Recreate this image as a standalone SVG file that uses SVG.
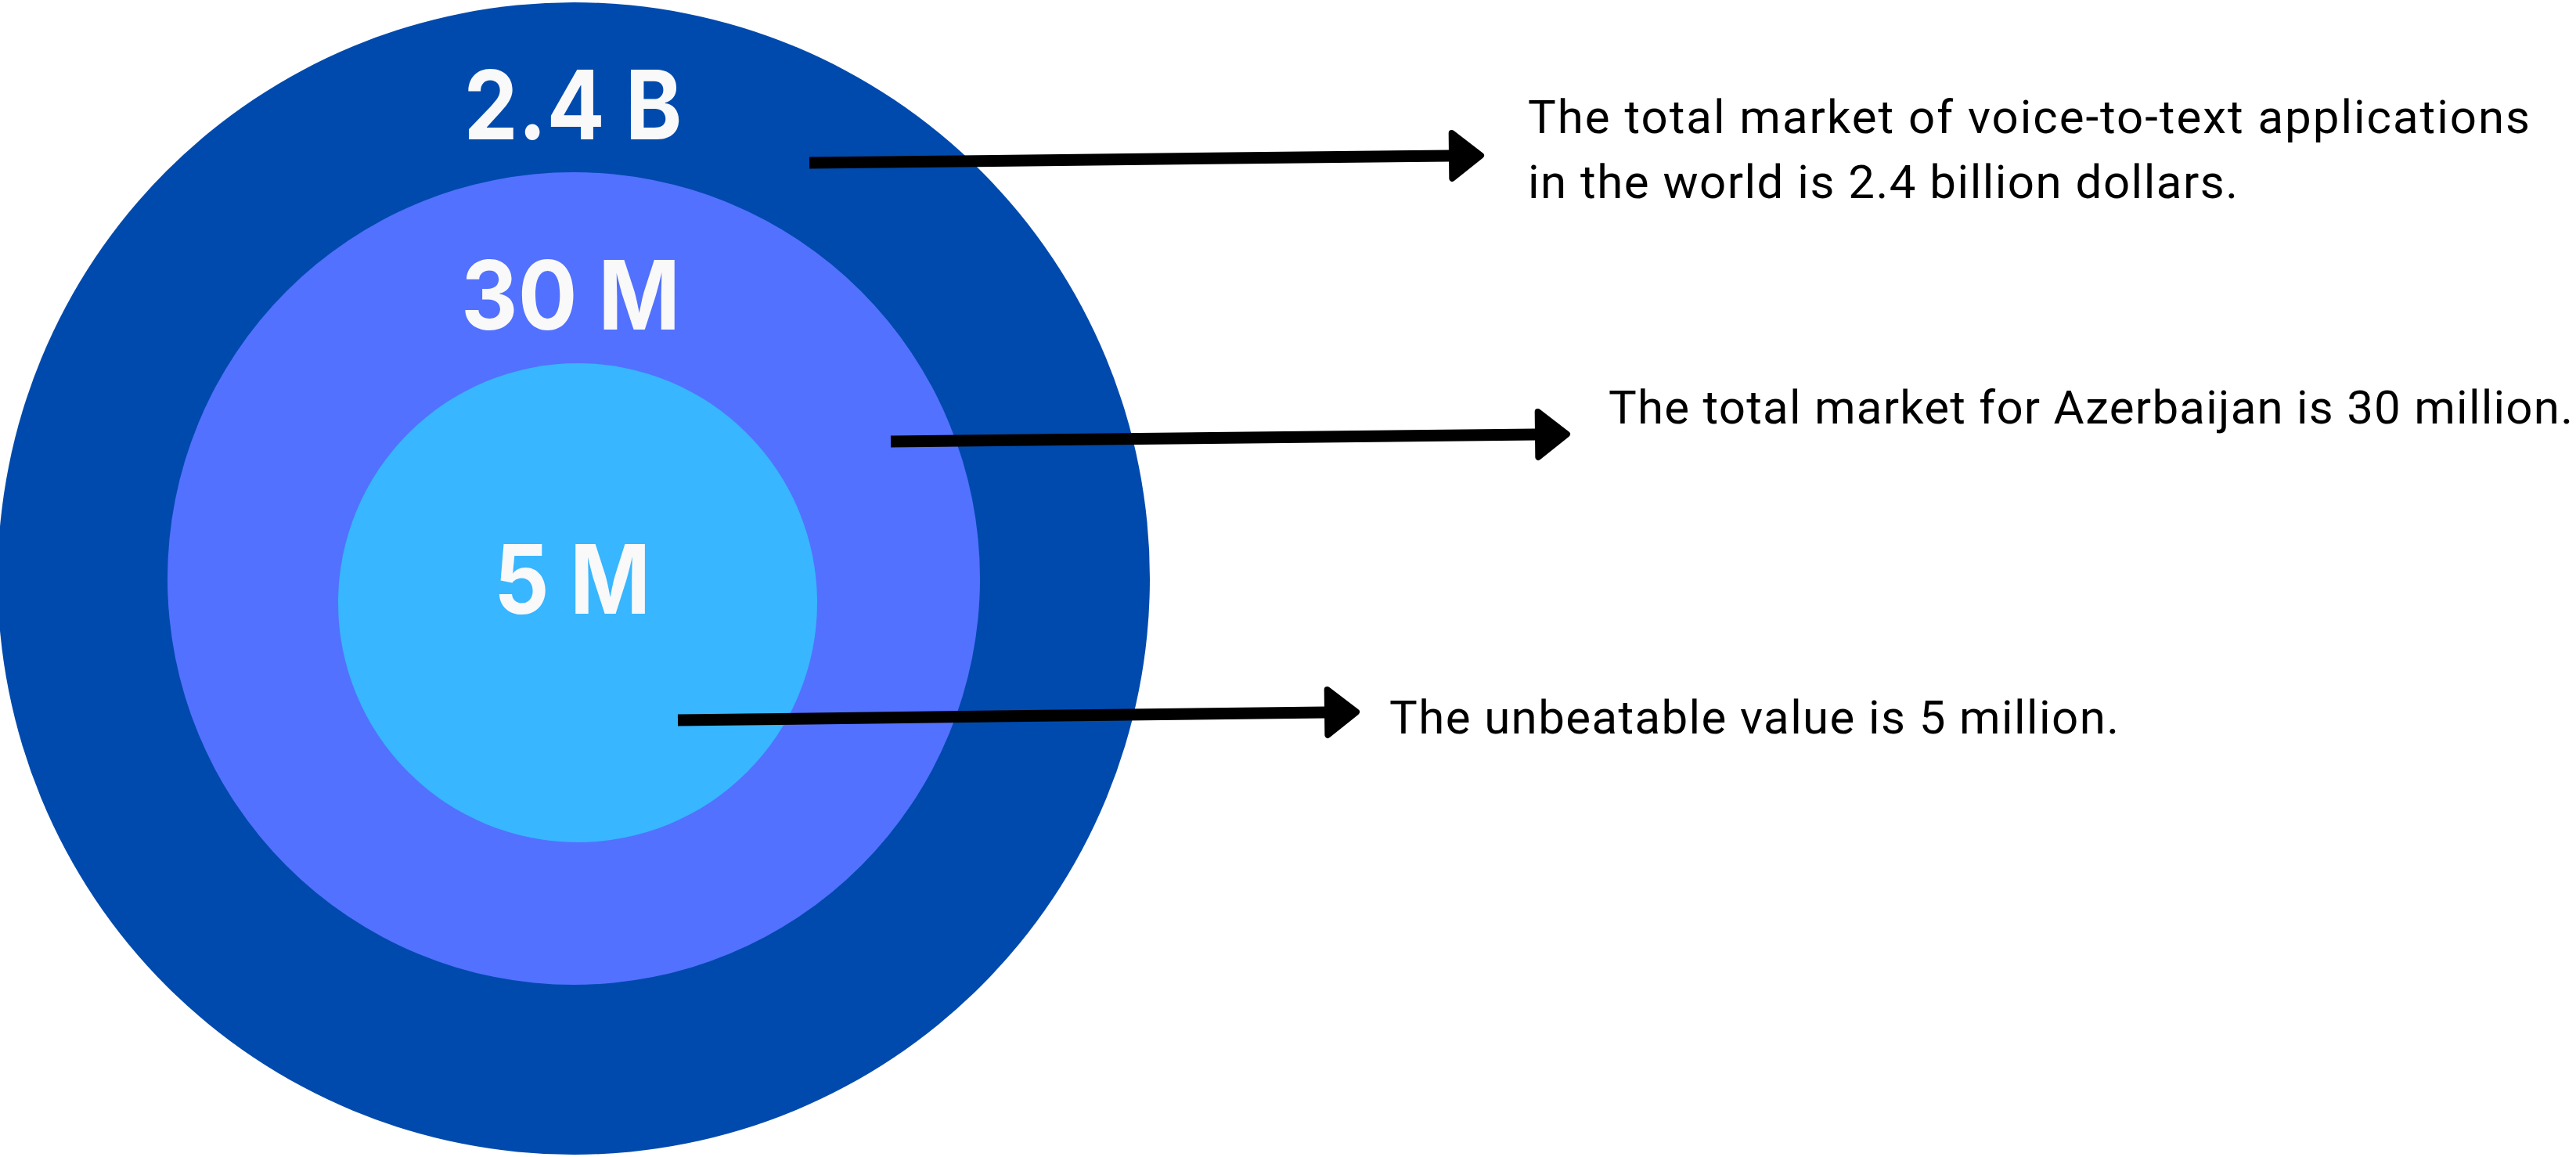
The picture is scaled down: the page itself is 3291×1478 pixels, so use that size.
<svg xmlns="http://www.w3.org/2000/svg" width="3291" height="1478" viewBox="0 0 3291 1478">
  <style>
    .big { font-family: Inter, "Open Sans", "DejaVu Sans", sans-serif; font-weight: 700; font-size: 122px; fill: #F9F9F9; text-anchor: middle; }
    .desc { font-family: Roboto, "Noto Sans", "Liberation Sans", sans-serif; font-weight: 400; font-size: 60px; fill: #000000; }
    .shaft { stroke: #000000; stroke-width: 15; fill: none; stroke-linecap: butt; }
  </style>
  <defs>
    <marker id="ah" markerUnits="userSpaceOnUse" viewBox="-2 -40 56 80" markerWidth="56" markerHeight="80" refX="2" refY="0" orient="auto" overflow="visible">
      <path d="M4,-29 L41,0 L4,29 Z" fill="#000000" stroke="#000000" stroke-width="8" stroke-linejoin="round"/>
    </marker>
  </defs>
  <rect x="0" y="0" width="3291" height="1478" fill="#FFFFFF"/>

  <g id="outer-circle">
    <circle cx="733" cy="739" r="736" fill="#004AAD"/>
    <text class="big" x="732" y="178" textLength="279" lengthAdjust="spacingAndGlyphs">2.4 B</text>
  </g>
  <g id="middle-circle">
    <circle cx="733" cy="739" r="519" fill="#5271FF"/>
    <text class="big" x="729" y="421" textLength="280" lengthAdjust="spacingAndGlyphs">30 M</text>
  </g>
  <g id="inner-circle">
    <circle cx="738" cy="770" r="306" fill="#38B6FF"/>
    <text class="big" x="731" y="784" textLength="200" lengthAdjust="spacingAndGlyphs">5 M</text>
  </g>

  <g id="connectors">
    <line class="shaft" x1="1034" y1="208" x2="1853" y2="199" marker-end="url(#ah)"/>
    <line class="shaft" x1="1138" y1="564" x2="1963" y2="555" marker-end="url(#ah)"/>
    <line class="shaft" x1="866" y1="920" x2="1694" y2="910" marker-end="url(#ah)"/>
  </g>

  <g id="label-world">
    <text class="desc" x="1952" y="170" textLength="1280" lengthAdjust="spacing">The total market of voice-to-text applications</text>
    <text class="desc" x="1952" y="253" textLength="907" lengthAdjust="spacing">in the world is 2.4 billion dollars.</text>
  </g>
  <g id="label-azerbaijan">
    <text class="desc" x="2055" y="541" textLength="1232" lengthAdjust="spacing">The total market for Azerbaijan is 30 million.</text>
  </g>
  <g id="label-unbeatable">
    <text class="desc" x="1775" y="937" textLength="932" lengthAdjust="spacing">The unbeatable value is 5 million.</text>
  </g>
</svg>
